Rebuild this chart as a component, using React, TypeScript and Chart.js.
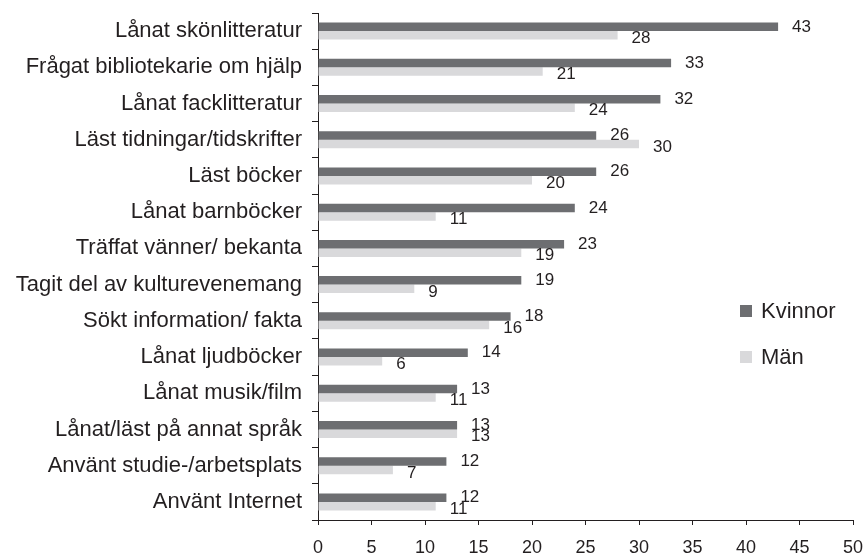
import React, { useEffect, useRef } from "react";
import { Chart, registerables } from "chart.js";

Chart.register(...registerables);

const categories = [
  "Lånat skönlitteratur",
  "Frågat bibliotekarie om hjälp",
  "Lånat facklitteratur",
  "Läst tidningar/tidskrifter",
  "Läst böcker",
  "Lånat barnböcker",
  "Träffat vänner/ bekanta",
  "Tagit del av kulturevenemang",
  "Sökt information/ fakta",
  "Lånat ljudböcker",
  "Lånat musik/film",
  "Lånat/läst på annat språk",
  "Använt studie-/arbetsplats",
  "Använt Internet",
];
const kvinnor = [43, 33, 32, 26, 26, 24, 23, 19, 18, 14, 13, 13, 12, 12];
const man = [28, 21, 24, 30, 20, 11, 19, 9, 16, 6, 11, 13, 7, 11];
const seriesNames = ["Kvinnor", "Män"];
const colors = ["#6d6e71", "#d9d9db"];

const FONT = "'Liberation Sans', Arial, sans-serif";
const TEXT = "#231f20";

const labelPlugin = {
  id: "barLabels",
  afterDatasetsDraw(chart: any) {
    const ctx = chart.ctx;
    ctx.save();
    ctx.font = `17px ${FONT}`;
    ctx.fillStyle = TEXT;
    ctx.textAlign = "left";
    ctx.textBaseline = "middle";
    chart.data.datasets.forEach((ds: any, di: number) => {
      const meta = chart.getDatasetMeta(di);
      meta.data.forEach((bar: any, i: number) => {
        const dy = di === 0 ? 0 : 3;
        ctx.fillText(String(ds.data[i]), bar.x + 14, bar.y + dy);
      });
    });
    ctx.restore();
  },
};

const legendPlugin = {
  id: "customLegend",
  afterDraw(chart: any) {
    const ctx = chart.ctx;
    ctx.save();
    const items = [{ y: 311 }, { y: 357 }];
    chart.data.datasets.forEach((ds: any, di: number) => {
      const y = items[di].y;
      ctx.fillStyle = ds.backgroundColor;
      ctx.fillRect(740, y - 6, 12, 12);
      ctx.fillStyle = TEXT;
      ctx.font = `22px ${FONT}`;
      ctx.textAlign = "left";
      ctx.textBaseline = "middle";
      ctx.fillText(ds.label, 761, y + 1);
    });
    ctx.restore();
  },
};

export default function App() {
  const ref = useRef<HTMLCanvasElement>(null);
  useEffect(() => {
    if (!ref.current) return;
    const chart = new Chart(ref.current, {
      type: "bar",
      data: {
        labels: categories,
        datasets: [
          { label: seriesNames[0], data: kvinnor, backgroundColor: colors[0] },
          { label: seriesNames[1], data: man, backgroundColor: colors[1] },
        ],
      },
      options: {
        indexAxis: "y",
        animation: false,
        responsive: false,
        devicePixelRatio: 1,
        categoryPercentage: 0.47,
        barPercentage: 1,
        layout: { padding: { left: 0, top: 13, right: 12, bottom: 0 } },
        plugins: {
          legend: { display: false },
          tooltip: { enabled: false },
        },
        scales: {
          x: {
            min: 0,
            max: 50,
            ticks: {
              stepSize: 5,
              color: TEXT,
              font: { family: FONT, size: 18 },
              padding: 12,
            },
            grid: {
              drawOnChartArea: false,
              drawTicks: true,
              tickLength: 5,
              color: "#231f20",
            },
            border: { color: "#231f20", width: 1 },
            afterFit: (s: any) => {
              s.height = 39;
              s.paddingLeft = 0;
              s.paddingRight = 0;
            },
          },
          y: {
            ticks: {
              color: TEXT,
              font: { family: FONT, size: 22 },
              padding: 10,
            },
            grid: {
              drawOnChartArea: false,
              drawTicks: true,
              tickLength: 6,
              offset: true,
              color: "#231f20",
            },
            border: { color: "#231f20", width: 1 },
            afterFit: (s: any) => {
              s.width = 318;
              s.paddingTop = 0;
              s.paddingBottom = 0;
            },
          },
        },
      },
      plugins: [labelPlugin, legendPlugin],
    });
    return () => chart.destroy();
  }, []);
  return (
    <div style={{ position: "fixed", left: 0, top: 0, width: 865, height: 559, background: "#fff" }}>
      <canvas ref={ref} width={865} height={559} />
    </div>
  );
}
